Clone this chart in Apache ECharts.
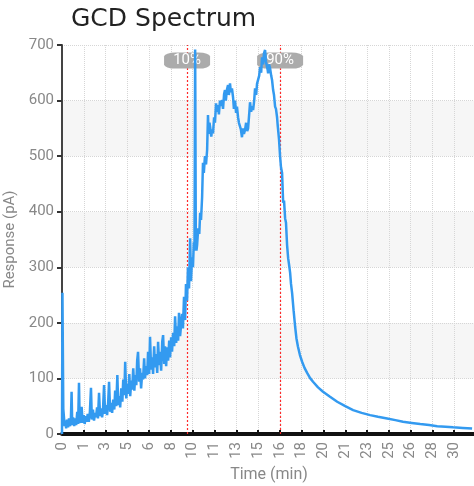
<!DOCTYPE html>
<html>
<head>
<meta charset="utf-8">
<script src="https://cdn.jsdelivr.net/npm/echarts@6/dist/echarts.min.js"></script>
<style>html,body{margin:0;padding:0;background:#fff}#c{width:474px;height:486px}</style>
</head>
<body>
<div id="c"></div>
<script>
// time in seconds, response in pA (x labels show whole minutes)
const gcdSeries = [
[0,0],[2,254],[4,254],[6,45],[9,30],[12,14],[16,24],[19,10],[23,26],[28,12],[32,28],[37,14],[41,30],[44,76],[47,16],[51,30],[56,14],[60,28],[65,16],[70,40],[74,18],[78,92],[81,26],[85,20],[90,49],[95,20],[100,34],[104,18],[109,32],[113,22],[118,36],[123,22],[128,40],[133,83],[137,26],[142,44],[147,24],[152,38],[156,30],[161,48],[165,28],[170,74],[175,32],[179,46],[184,30],[188,42],[193,88],[198,36],[202,52],[207,34],[212,58],[216,94],[221,40],[226,56],[230,38],[235,62],[240,44],[244,78],[249,50],[254,106],[258,52],[263,68],[267,48],[272,82],[277,58],[281,98],[286,70],[290,130],[295,64],[300,90],[304,72],[309,108],[313,68],[318,96],[322,80],[327,118],[332,78],[336,106],[341,88],[345,132],[349,148],[354,94],[358,118],[363,82],[368,110],[372,98],[377,136],[381,100],[386,122],[391,106],[395,148],[400,108],[404,175],[409,116],[414,138],[418,108],[423,158],[427,120],[432,144],[437,110],[441,166],[446,124],[450,148],[455,114],[460,166],[464,178],[469,126],[473,158],[478,122],[482,156],[487,132],[492,168],[496,138],[501,174],[505,148],[510,182],[515,158],[519,212],[524,164],[528,194],[533,168],[537,218],[542,176],[547,198],[551,216],
[555,190],[560,247],[565,205],[569,270],[574,240],[578,300],[583,262],[588,352],[592,275],[597,318],[601,300],[605,345],[608,330],[610,560],[611,692],[612,600],[614,360],[617,330],[620,340],[625,370],[630,360],[634,398],[638,385],[643,426],[647,488],[651,470],[656,500],[661,485],[666,511],[670,574],[673,540],[677,560],[680,552],[685,535],[689,548],[693,541],[698,570],[702,560],[707,595],[711,580],[716,592],[720,575],[725,600],[730,590],[735,601],[739,585],[744,612],[748,619],[752,600],[757,620],[762,628],[766,610],[771,631],[775,615],[780,622],[785,606],[789,585],[794,600],[799,578],[803,589],[808,570],[812,560],[817,562],[821,548],[826,534],[830,550],[835,540],[840,547],[845,560],[850,545],[854,550],[859,575],[863,597],[868,580],[872,590],[877,583],[882,600],[886,622],[891,610],[895,630],[900,628],[905,645],[909,660],[914,650],[918,678],[923,665],[927,685],[932,691],[936,670],[941,673],[944,655],[946,649],[950,665],[955,658],[960,645],[964,637],[969,619],[973,610],[978,589],[982,585],[987,570],[990,555],[992,547],[996,530],[1001,499],[1005,480],[1010,470],[1015,416],[1019,420],[1024,388],[1028,380],[1033,340],[1038,316],[1042,305],[1047,290],[1051,270],[1056,254],[1063,222],[1070,193],[1076,172],[1083,157],[1092,142],[1102,130],[1113,119],[1125,110],[1138,101],[1152,94],[1175,84],[1198,76],[1230,67],[1263,58],[1300,50],[1336,43],[1375,38],[1414,34],[1450,31],[1492,28],[1530,25],[1565,22],[1605,20],[1644,18],[1685,16],[1722,14],[1760,13],[1795,12],[1840,11],[1882,10]
];
const markerTimes = [574, 1001];
const markerLabels = ['10%', '90%'];
const markerLabelY = 672;
const yTickMax = 700;
const yTickStep = 100;
const xTickStepSec = 100;

const chart = echarts.init(document.getElementById('c'), null, {renderer: 'canvas'});
const axisFont = 'Roboto';
chart.setOption({
  animation: false,
  backgroundColor: '#ffffff',
  title: {
    text: 'GCD Spectrum', left: 66, top: 2,
    textStyle: {fontFamily: 'DejaVu Sans', fontSize: 25, fontWeight: 'normal', color: '#222'}
  },
  grid: {left: 62, right: -2, top: 45, bottom: 52, containLabel: false, outerBoundsMode: 'none'},
  xAxis: {
    type: 'value', min: 0, max: 1900, interval: xTickStepSec,
    name: 'Time (min)', nameLocation: 'middle', nameGap: 26,
    nameTextStyle: {color: '#888', fontFamily: axisFont, fontSize: 16},
    axisLine: {show: true, onZero: false, lineStyle: {color: '#111', width: 4}},
    axisTick: {show: true, inside: true, length: 4, lineStyle: {color: '#111', width: 2}},
    axisLabel: {
      rotate: 90, margin: 8, color: '#888', fontFamily: axisFont, fontSize: 15,
      showMaxLabel: false,
      formatter: v => String(Math.floor(v / 60))
    },
    splitLine: {show: true, lineStyle: {color: '#d6d6d6', type: 'dotted', width: 1}}
  },
  yAxis: {
    type: 'value', min: 0, max: yTickMax, interval: yTickStep,
    name: 'Response (pA)', nameLocation: 'middle', nameGap: 33,
    nameTextStyle: {color: '#888', fontFamily: axisFont, fontSize: 15},
    axisLine: {show: true, lineStyle: {color: '#444', width: 2}},
    axisTick: {show: true, length: 5, lineStyle: {color: '#333', width: 2}},
    axisLabel: {color: '#888', fontFamily: axisFont, fontSize: 15, margin: 8},
    splitLine: {show: true, lineStyle: {color: '#d6d6d6', type: 'dotted', width: 1}},
    splitArea: {show: true, areaStyle: {color: ['#ffffff', '#f6f6f6']}}
  },
  series: [
    {
      type: 'line', data: [], z: 2, silent: true,
      markLine: {
        silent: true, symbol: 'none', z: 2,
        label: {show: false},
        lineStyle: {color: '#ff2a2a', type: [2, 2], width: 1.2, opacity: 1},
        data: markerTimes.map(t => ({xAxis: t}))
      },
      markPoint: {
        silent: true, z: 2,
        symbol: 'roundRect', symbolSize: [46, 16],
        itemStyle: {color: '#ababab'},
        label: {show: true, position: 'inside', formatter: '{b}', color: '#fff', fontFamily: axisFont, fontSize: 15},
        data: markerTimes.map((t, i) => ({name: markerLabels[i], coord: [t, markerLabelY]}))
      }
    },
    {
      type: 'line', data: gcdSeries, z: 3,
      showSymbol: false, symbol: 'none',
      lineStyle: {color: '#339af0', width: 2.5},
      itemStyle: {color: '#339af0'}
    }
  ]
});
</script>
</body>
</html>
